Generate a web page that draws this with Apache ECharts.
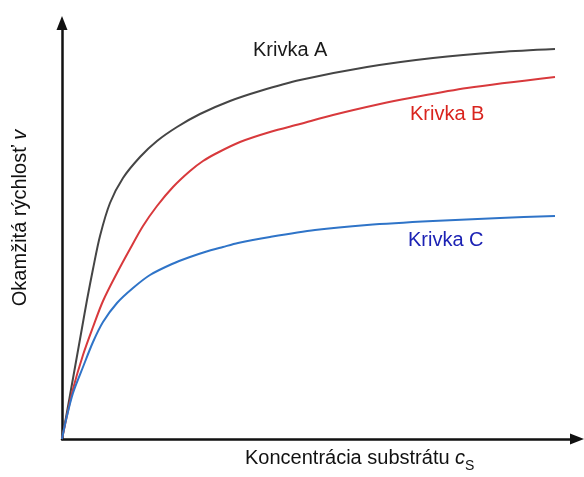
<!DOCTYPE html>
<html>
<head>
<meta charset="utf-8">
<script src="https://cdn.jsdelivr.net/npm/echarts@6/dist/echarts.min.js"></script>
<style>
  html, body { margin: 0; padding: 0; background: #fff; }
  #chart { width: 584px; height: 477px; }
</style>
</head>
<body>
<div id="chart"></div>
<script>
// hodnoty odčítané z obrázka (ľubovoľné jednotky, c_S, v)
const curveA = [[0,0],[5,27],[10,55],[15,83],[20,111],[25,139],[31,170],[38,203],[48,236],[61,261],[78,282],[95,298],[115,312],[138,325],[168,338],[198,348],[238,359],[305,372],[371,381],[438,387],[493,390]];
const curveB = [[0,0],[4,19],[11,50],[21,84],[31,112],[41,138],[55,166],[68,190],[81,213],[95,233],[111,252],[128,268],[141,278],[155,286],[178,297],[208,307],[238,315],[271,324],[318,335],[348,341],[405,351],[493,362]];
const curveC = [[0,0],[4,19],[11,46],[21,72],[31,97],[41,117],[55,136],[71,151],[88,164],[110,175],[128,182],[143,187],[161,192],[176,196],[208,202],[253,209],[305,214],[371,218],[438,221],[493,223]];

const seriesNames = ["Krivka A", "Krivka B", "Krivka C"];
const xTitle = "Koncentrácia substrátu ";
const yTitle = "Okamžitá rýchlosť ";

const font = "'Liberation Sans', Arial, sans-serif";

const chart = echarts.init(document.getElementById("chart"));

const axisLine = {
  show: true,
  symbol: ["none", "triangle"],
  symbolSize: [11, 14],
  lineStyle: { color: "#111", width: 2.5 }
};

const lineSeries = (name, data, color) => ({
  name: name,
  type: "line",
  data: data,
  smooth: 0.3,
  showSymbol: false,
  clip: false,
  lineStyle: { color: color, width: 2 },
  itemStyle: { color: color }
});

const option = {
  backgroundColor: "#fff",
  animation: false,
  grid: { left: 62, right: 7, top: 23, bottom: 38 },
  xAxis: {
    type: "value",
    min: 0,
    max: 515,
    axisLine: axisLine,
    axisTick: { show: false },
    axisLabel: { show: false },
    splitLine: { show: false }
  },
  yAxis: {
    type: "value",
    min: 0,
    max: 416,
    axisLine: axisLine,
    axisTick: { show: false },
    axisLabel: { show: false },
    splitLine: { show: false }
  },
  graphic: [
    {
      type: "text", left: 253, top: 40,
      style: { text: seriesNames[0], fill: "#1a1a1a", font: "20px " + font }
    },
    {
      type: "text", left: 410, top: 104,
      style: { text: seriesNames[1], fill: "#d9241e", font: "20px " + font }
    },
    {
      type: "text", left: 408, top: 230,
      style: { text: seriesNames[2], fill: "#1c22b4", font: "20px " + font }
    },
    {
      type: "text", left: 245, top: 448,
      style: {
        text: xTitle + "{i|c}{s|S}",
        fill: "#111",
        font: "20px " + font,
        rich: {
          i: { fontStyle: "italic", fontSize: 20, fontFamily: font, fill: "#111" },
          s: { fontSize: 14, fontFamily: font, fill: "#111", padding: [16, 0, 0, 0] }
        }
      }
    },
    {
      type: "text",
      x: 20, y: 218,
      rotation: Math.PI / 2,
      style: {
        text: yTitle + "{i|v}",
        fill: "#111",
        font: "20px " + font,
        align: "center",
        verticalAlign: "middle",
        rich: {
          i: { fontStyle: "italic", fontSize: 20, fontFamily: font, fill: "#111" }
        }
      }
    }
  ],
  series: [
    lineSeries(seriesNames[0], curveA, "#454545"),
    lineSeries(seriesNames[1], curveB, "#d8393c"),
    lineSeries(seriesNames[2], curveC, "#2f74c8")
  ]
};

chart.setOption(option);
window.addEventListener("resize", () => chart.resize());
</script>
</body>
</html>
